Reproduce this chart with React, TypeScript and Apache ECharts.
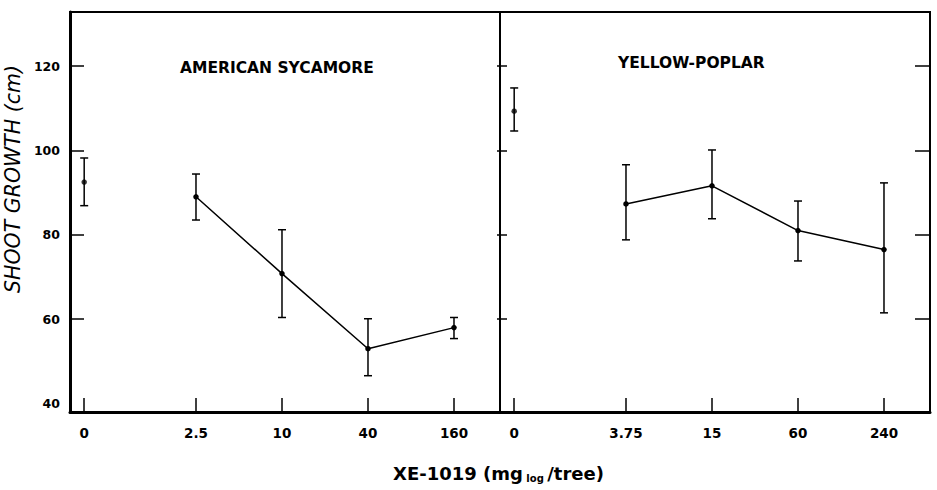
import React, { useEffect, useRef } from "react";
import * as echarts from "echarts";

const Y_TICKS = [40, 60, 80, 100, 120];
const Y_TICK_MARKS = [60, 80, 100, 120];

const SYC_DOSES = [0, 2.5, 10, 40, 160];
const SYC_LABELS = ["0", "2.5", "10", "40", "160"];
const SYC_MEAN = [92.5, 89.0, 70.8, 53.0, 58.0];
const SYC_HIGH = [98.2, 94.4, 81.2, 60.1, 60.4];
const SYC_LOW = [86.9, 83.5, 60.4, 46.6, 55.4];

const POP_DOSES = [0, 3.75, 15, 60, 240];
const POP_LABELS = ["0", "3.75", "15", "60", "240"];
const POP_MEAN = [109.3, 87.3, 91.6, 81.0, 76.5];
const POP_HIGH = [114.8, 96.6, 100.1, 88.0, 92.3];
const POP_LOW = [104.6, 78.8, 83.8, 73.8, 61.5];

// log4 dose scale; untreated control sits on a broken-axis slot to the left
const CONTROL_POS = -1.3;
const pos = (d: number, base: number) =>
  d === 0 ? CONTROL_POS : Math.log(d / base) / Math.log(4);

const FONT = "DejaVu Sans";

function panel(doses: number[], labels: string[], mean: number[], hi: number[], lo: number[], gi: number) {
  const base = doses[1];
  const xs = doses.map((d) => pos(d, base));
  const label = (v: number) => {
    let best = 0;
    xs.forEach((x, i) => {
      if (Math.abs(x - v) < Math.abs(xs[best] - v)) best = i;
    });
    return labels[best];
  };
  const xAxis = {
    type: "value",
    gridIndex: gi,
    min: -1.465,
    max: 3.535,
    axisLine: { show: true, onZero: false, lineStyle: { color: "#000", width: 3 } },
    axisTick: { show: true, inside: true, length: 14, customValues: xs, lineStyle: { color: "#000", width: 1.5 } },
    axisLabel: {
      show: true,
      customValues: xs,
      formatter: (v: number) => label(v),
      margin: 14,
      fontFamily: FONT,
      fontWeight: "bold",
      fontSize: 13.5,
      color: "#000",
    },
    splitLine: { show: false },
  };
  const series = [
    {
      type: "line",
      xAxisIndex: gi,
      yAxisIndex: gi * 2,
      data: xs.slice(1).map((x, i) => [x, mean[i + 1]]),
      symbol: "circle",
      symbolSize: 5.5,
      itemStyle: { color: "#000" },
      lineStyle: { color: "#000", width: 1.5 },
      z: 3,
    },
    {
      type: "scatter",
      xAxisIndex: gi,
      yAxisIndex: gi * 2,
      data: [[xs[0], mean[0]]],
      symbol: "circle",
      symbolSize: 5.5,
      itemStyle: { color: "#000" },
      z: 3,
    },
    {
      type: "custom",
      xAxisIndex: gi,
      yAxisIndex: gi * 2,
      data: xs.map((x, i) => [x, lo[i], hi[i]]),
      encode: { x: 0, y: [1, 2] },
      renderItem: (params: any, api: any) => {
        const x = api.value(0);
        const p1 = api.coord([x, api.value(2)]);
        const p2 = api.coord([x, api.value(1)]);
        const w = 4;
        const st = { stroke: "#000", lineWidth: 1.5 };
        return {
          type: "group",
          children: [
            { type: "line", shape: { x1: p1[0], y1: p1[1], x2: p2[0], y2: p2[1] }, style: st },
            { type: "line", shape: { x1: p1[0] - w, y1: p1[1], x2: p1[0] + w, y2: p1[1] }, style: st },
            { type: "line", shape: { x1: p2[0] - w, y1: p2[1], x2: p2[0] + w, y2: p2[1] }, style: st },
          ],
        };
      },
      z: 2,
    },
  ];
  return { xAxis, series };
}

function yAxisDef(gi: number, position: string, tickLen: number, showLabel: boolean, lineWidth: number) {
  return {
    type: "value",
    gridIndex: gi,
    position,
    min: 38,
    max: 132.8,
    axisLine: { show: true, onZero: false, lineStyle: { color: "#000", width: lineWidth } },
    axisTick: { show: true, inside: true, length: tickLen, customValues: Y_TICK_MARKS, lineStyle: { color: "#000", width: 1.5 } },
    axisLabel: {
      show: showLabel,
      customValues: Y_TICKS,
      margin: 10,
      fontFamily: FONT,
      fontWeight: "bold",
      fontSize: 12.5,
      color: "#000",
    },
    splitLine: { show: false },
  };
}

export default function App() {
  const ref = useRef<HTMLDivElement>(null);
  useEffect(() => {
    if (!ref.current) return;
    const chart = echarts.init(ref.current, null, { renderer: "svg" });
    const left = panel(SYC_DOSES, SYC_LABELS, SYC_MEAN, SYC_HIGH, SYC_LOW, 0);
    const right = panel(POP_DOSES, POP_LABELS, POP_MEAN, POP_HIGH, POP_LOW, 1);
    chart.setOption({
      animation: false,
      backgroundColor: "#fff",
      grid: [
        { left: 70, top: 12, width: 430, height: 400, show: true, borderColor: "#000", borderWidth: 2, outerBoundsMode: "none", containLabel: false },
        { left: 500, top: 12, width: 430, height: 400, show: true, borderColor: "#000", borderWidth: 2, outerBoundsMode: "none", containLabel: false },
      ],
      title: [
        { text: "AMERICAN SYCAMORE", left: 175, top: 55, textStyle: { fontFamily: FONT, fontWeight: "bold", fontSize: 15.5, color: "#000" } },
        { text: "YELLOW-POPLAR", left: 613, top: 50, textStyle: { fontFamily: FONT, fontWeight: "bold", fontSize: 15.5, color: "#000" } },
      ],
      xAxis: [left.xAxis, right.xAxis],
      yAxis: [
        yAxisDef(0, "left", 14, true, 3),
        yAxisDef(0, "right", 3, false, 2),
        yAxisDef(1, "left", 7, false, 2),
        yAxisDef(1, "right", 15, false, 2),
      ],
      graphic: [
        {
          type: "text",
          x: 13,
          y: 179,
          rotation: Math.PI / 2,
          style: {
            text: "SHOOT GROWTH (cm)",
            fontFamily: FONT,
            fontStyle: "italic",
            fontSize: 20.5,
            fill: "#000",
            textAlign: "center",
            textVerticalAlign: "middle",
            align: "center",
            verticalAlign: "middle",
          },
        },
        {
          type: "text",
          x: 393,
          y: 463,
          style: {
            text: "{a|XE-1019 (mg}{s| log }{a|/tree)}",
            rich: {
              a: { fontFamily: FONT, fontWeight: "bold", fontSize: 18, fill: "#000", color: "#000" },
              s: { fontFamily: FONT, fontWeight: "bold", fontSize: 10, fill: "#000", color: "#000", padding: [10, 0, 0, 0] },
            },
          },
        },
      ],
      series: [...left.series, ...right.series],
    });
    return () => chart.dispose();
  }, []);
  return <div ref={ref} style={{ position: "fixed", left: 0, top: 0, width: 937, height: 490 }} />;
}
